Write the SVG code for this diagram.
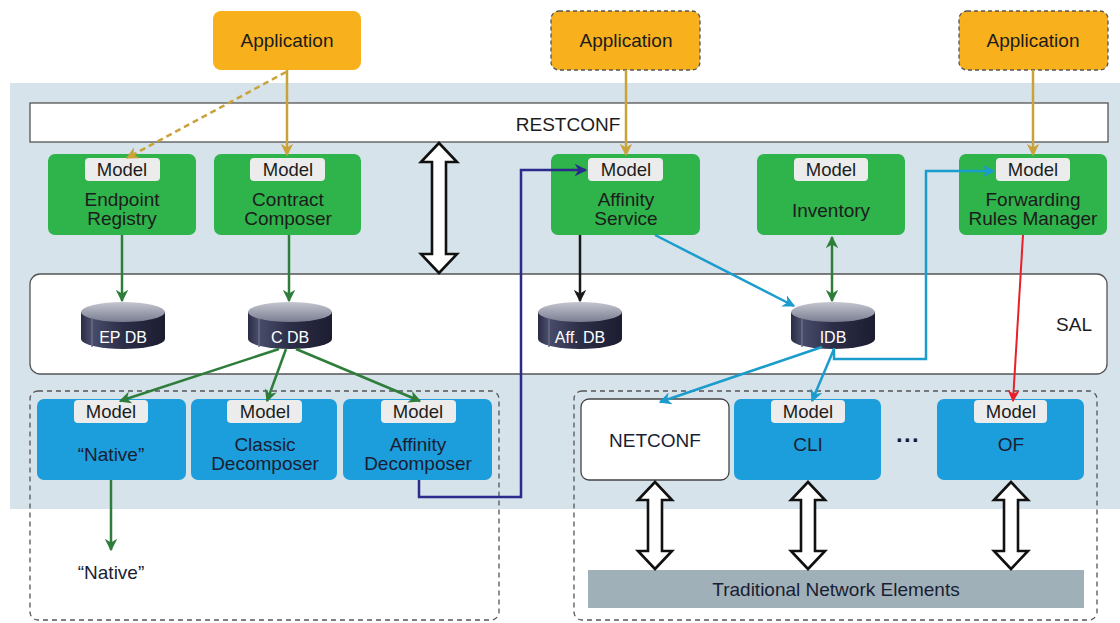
<svg xmlns="http://www.w3.org/2000/svg" width="1120" height="623" viewBox="0 0 1120 623">
<defs>
<style>
text{font-family:"Liberation Sans",Arial,sans-serif;fill:#1c1c1c;text-anchor:middle}
.app{fill:#f8b01c}
.appd{fill:#f8b01c;stroke:#555;stroke-width:1.3;stroke-dasharray:4,3}
.green{fill:#2fb34b}
.blue{fill:#1b9edb}
.tag{fill:#ececec}
.lbl{font-size:19px}
.tagt{font-size:18.5px}
.bt{font-size:19px;fill:#1a1d33}
.dash{fill:none;stroke:#555;stroke-width:1.3;stroke-dasharray:5,4}
.harrow{fill:#fff;stroke:#111;stroke-width:2.6;stroke-linejoin:miter}
.c{fill:none;stroke-width:2.5}
.gold{stroke:#c9a23a}
.dg{stroke:#2e7d3a}
.cy{stroke:#1a9ccc}
.nv{stroke:#2b2b8c}
.rd{stroke:#e8202a;stroke-width:2}
.bk{stroke:#1a1a1a}
.dbt{font-size:16px;fill:#fff}
</style>
<marker id="mGold" viewBox="0 0 10 10" refX="9" refY="5" markerWidth="5" markerHeight="5" orient="auto-start-reverse" markerUnits="strokeWidth"><path d="M0,0 L10,5 L0,10 L3,5 z" fill="#c9a23a"/></marker>
<marker id="mDg" viewBox="0 0 10 10" refX="9" refY="5" markerWidth="5" markerHeight="5" orient="auto-start-reverse" markerUnits="strokeWidth"><path d="M0,0 L10,5 L0,10 L3,5 z" fill="#2e7d3a"/></marker>
<marker id="mCy" viewBox="0 0 10 10" refX="9" refY="5" markerWidth="5" markerHeight="5" orient="auto-start-reverse" markerUnits="strokeWidth"><path d="M0,0 L10,5 L0,10 L3,5 z" fill="#1a9ccc"/></marker>
<marker id="mNv" viewBox="0 0 10 10" refX="9" refY="5" markerWidth="5" markerHeight="5" orient="auto-start-reverse" markerUnits="strokeWidth"><path d="M0,0 L10,5 L0,10 L3,5 z" fill="#2b2b8c"/></marker>
<marker id="mRd" viewBox="0 0 10 10" refX="9" refY="5" markerWidth="6" markerHeight="6" orient="auto-start-reverse" markerUnits="strokeWidth"><path d="M0,0 L10,5 L0,10 L3,5 z" fill="#e8202a"/></marker>
<marker id="mBk" viewBox="0 0 10 10" refX="9" refY="5" markerWidth="5" markerHeight="5" orient="auto-start-reverse" markerUnits="strokeWidth"><path d="M0,0 L10,5 L0,10 L3,5 z" fill="#1a1a1a"/></marker>
<linearGradient id="gBody" x1="0" y1="0" x2="1" y2="0">
<stop offset="0" stop-color="#2a2c44"/><stop offset="0.12" stop-color="#4a4d6a"/><stop offset="0.5" stop-color="#2c2e48"/><stop offset="1" stop-color="#1c1d30"/>
</linearGradient>
<linearGradient id="gTop" x1="0" y1="0" x2="0" y2="1">
<stop offset="0" stop-color="#c4c6d0"/><stop offset="1" stop-color="#7a7d90"/>
</linearGradient>
<g id="cyl">
<path d="M-42,0 L-42,27 A42,10 0 0 0 42,27 L42,0 z" fill="url(#gBody)"/>
<line x1="-31" y1="7" x2="-31" y2="35" stroke="#6a6d88" stroke-width="1.5"/>
<ellipse cx="0" cy="0" rx="42" ry="10" fill="url(#gTop)"/>
</g>
</defs>

<rect x="0" y="0" width="1120" height="623" fill="#fff"/>
<rect x="10" y="83" width="1110" height="426" fill="#d6e3ea"/>

<g id="restconf">
<rect x="30" y="103" width="1078" height="39" fill="#fff" stroke="#555" stroke-width="1.3"/>
<text x="568" y="131" class="lbl">RESTCONF</text>
</g>

<g id="sal">
<rect x="30" y="274" width="1077" height="100" rx="10" fill="#fff" stroke="#555" stroke-width="1.3"/>
<text x="1074" y="331" class="lbl">SAL</text>
</g>

<g id="southbound-left"><rect x="30" y="391" width="469" height="229" rx="8" class="dash"/></g>
<g id="southbound-right"><rect x="574" y="391" width="523" height="229" rx="8" class="dash"/></g>

<g id="app1"><rect x="213" y="11" width="148" height="59" rx="8" class="app"/><text x="287" y="47" class="lbl">Application</text></g>
<g id="app2"><rect x="551" y="11" width="149" height="59" rx="8" class="appd"/><text x="626" y="47" class="lbl">Application</text></g>
<g id="app3"><rect x="959" y="11" width="149" height="59" rx="8" class="appd"/><text x="1033" y="47" class="lbl">Application</text></g>

<g id="endpoint-registry"><rect x="48" y="154" width="148" height="81" rx="7" class="green"/><rect x="85" y="158" width="75" height="23" rx="4" class="tag"/><text x="122" y="176" class="tagt">Model</text><text x="122" y="206" class="lbl">Endpoint</text><text x="122" y="225" class="lbl">Registry</text></g>
<g id="contract-composer"><rect x="214" y="154" width="147" height="81" rx="7" class="green"/><rect x="250" y="158" width="75" height="23" rx="4" class="tag"/><text x="288" y="176" class="tagt">Model</text><text x="288" y="206" class="lbl">Contract</text><text x="288" y="225" class="lbl">Composer</text></g>
<g id="affinity-service"><rect x="551" y="154" width="149" height="81" rx="7" class="green"/><rect x="588" y="158" width="75" height="23" rx="4" class="tag"/><text x="626" y="176" class="tagt">Model</text><text x="626" y="206" class="lbl">Affinity</text><text x="626" y="225" class="lbl">Service</text></g>
<g id="inventory"><rect x="757" y="154" width="148" height="81" rx="7" class="green"/><rect x="794" y="158" width="74" height="23" rx="4" class="tag"/><text x="831" y="176" class="tagt">Model</text><text x="831" y="217" class="lbl">Inventory</text></g>
<g id="frm"><rect x="959" y="154" width="148" height="81" rx="7" class="green"/><rect x="996" y="158" width="74" height="23" rx="4" class="tag"/><text x="1033" y="176" class="tagt">Model</text><text x="1033" y="206" class="lbl">Forwarding</text><text x="1033" y="225" class="lbl">Rules Manager</text></g>

<g id="big-arrow"><polygon class="harrow" points="439,143 457,162 446,162 446,254 457,254 439,273 421,254 432,254 432,162 421,162"/></g>

<g id="ep-db"><use href="#cyl" x="123" y="312"/><text x="123" y="343" class="dbt">EP DB</text></g>
<g id="c-db"><use href="#cyl" x="290" y="312"/><text x="290" y="343" class="dbt">C DB</text></g>
<g id="aff-db"><use href="#cyl" x="580" y="312"/><text x="580" y="343" class="dbt">Aff. DB</text></g>
<g id="idb"><use href="#cyl" x="833" y="312"/><text x="833" y="343" class="dbt">IDB</text></g>

<g id="native"><rect x="37" y="399" width="149" height="81" rx="7" class="blue"/><rect x="74" y="400" width="74" height="23" rx="4" class="tag"/><text x="111" y="418" class="tagt">Model</text><text x="111" y="461" class="bt">“Native”</text></g>
<g id="classic-decomposer"><rect x="191" y="399" width="146" height="81" rx="7" class="blue"/><rect x="227" y="400" width="75" height="23" rx="4" class="tag"/><text x="265" y="418" class="tagt">Model</text><text x="265" y="451" class="bt">Classic</text><text x="265" y="470" class="bt">Decomposer</text></g>
<g id="affinity-decomposer"><rect x="343" y="399" width="149" height="81" rx="7" class="blue"/><rect x="381" y="400" width="75" height="23" rx="4" class="tag"/><text x="418" y="418" class="tagt">Model</text><text x="418" y="451" class="bt">Affinity</text><text x="418" y="470" class="bt">Decomposer</text></g>
<g id="native-out"><text x="111" y="579" class="bt">“Native”</text></g>

<g id="netconf"><rect x="581" y="399" width="148" height="81" rx="8" fill="#fff" stroke="#444" stroke-width="1.3"/><text x="655" y="447" class="bt">NETCONF</text></g>
<g id="cli"><rect x="734" y="399" width="147" height="81" rx="7" class="blue"/><rect x="771" y="400" width="74" height="23" rx="4" class="tag"/><text x="808" y="418" class="tagt">Model</text><text x="808" y="451" class="bt">CLI</text></g>
<g id="dots"><text x="908" y="448" style="font-size:24px;font-weight:bold;fill:#1a1d33">···</text></g>
<g id="of"><rect x="937" y="399" width="147" height="81" rx="7" class="blue"/><rect x="974" y="400" width="73" height="23" rx="4" class="tag"/><text x="1011" y="418" class="tagt">Model</text><text x="1011" y="451" class="bt">OF</text></g>

<g id="tne"><rect x="588" y="570" width="496" height="38" fill="#a0b0b8"/><text x="836" y="596" class="bt">Traditional Network Elements</text></g>

<g id="lower-arrows">
<polygon class="harrow" points="655,482 672,500 662,500 662,551 672,551 655,569 638,551 648,551 648,500 638,500"/>
<polygon class="harrow" points="808,482 825,500 815,500 815,551 825,551 808,569 791,551 801,551 801,500 791,500"/>
<polygon class="harrow" points="1011,482 1028,500 1018,500 1018,551 1028,551 1011,569 994,551 1004,551 1004,500 994,500"/>
</g>

<g id="connectors">
<line x1="287" y1="70" x2="287" y2="155" class="c gold" marker-end="url(#mGold)"/>
<line x1="286" y1="72" x2="127" y2="158" class="c gold" stroke-dasharray="6,4" marker-end="url(#mGold)"/>
<line x1="626" y1="70" x2="626" y2="155" class="c gold" marker-end="url(#mGold)"/>
<line x1="1033" y1="70" x2="1033" y2="155" class="c gold" marker-end="url(#mGold)"/>
<line x1="122" y1="235" x2="122" y2="301" class="c dg" marker-end="url(#mDg)"/>
<line x1="289" y1="235" x2="289" y2="301" class="c dg" marker-end="url(#mDg)"/>
<line x1="279" y1="349" x2="120" y2="401" class="c dg" marker-end="url(#mDg)"/>
<line x1="286" y1="349" x2="267" y2="401" class="c dg" marker-end="url(#mDg)"/>
<line x1="296" y1="349" x2="420" y2="401" class="c dg" marker-end="url(#mDg)"/>
<line x1="111" y1="480" x2="111" y2="550" class="c dg" marker-end="url(#mDg)"/>
<line x1="832" y1="237" x2="832" y2="301" class="c dg" marker-start="url(#mDg)" marker-end="url(#mDg)"/>
<line x1="580" y1="235" x2="580" y2="301" class="c bk" marker-end="url(#mBk)"/>
<line x1="655" y1="235" x2="794" y2="306" class="c cy" marker-end="url(#mCy)"/>
<polyline points="834,348 834,359 926,359 926,171 994,171" class="c cy" marker-end="url(#mCy)"/>
<line x1="822" y1="347" x2="660" y2="402" class="c cy" marker-end="url(#mCy)"/>
<line x1="834" y1="349" x2="812" y2="401" class="c cy" marker-end="url(#mCy)"/>
<line x1="1023" y1="235" x2="1013" y2="401" class="c rd" marker-end="url(#mRd)"/>
<polyline points="419,480 419,497 521,497 521,170 586,170" class="c nv" marker-end="url(#mNv)"/>
</g>
</svg>
